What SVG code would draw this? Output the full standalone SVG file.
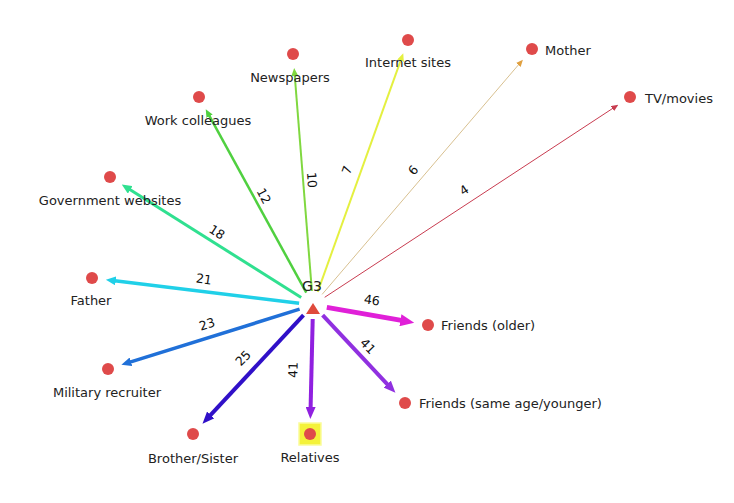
<svg xmlns="http://www.w3.org/2000/svg" width="734" height="503" viewBox="0 0 734 503">
<style>
.lbl{font-family:"DejaVu Sans",Verdana,sans-serif;font-size:13px;fill:#222}
.mid{text-anchor:middle}
.num{font-family:"DejaVu Sans",Verdana,sans-serif;font-size:12.5px;fill:#111;text-anchor:middle;dominant-baseline:central}
.dot{fill:#df4a4a}
.e{fill:none;stroke-linecap:butt}
</style>
<defs>
<marker id="m1" markerUnits="userSpaceOnUse" orient="auto" markerWidth="8" markerHeight="7" viewBox="0 0 8 7" refX="1" refY="3.5"><path d="M0,0L8,3.5L0,7z" fill="#80d840"/></marker>
<marker id="m2" markerUnits="userSpaceOnUse" orient="auto" markerWidth="8" markerHeight="7" viewBox="0 0 8 7" refX="1" refY="3.5"><path d="M0,0L8,3.5L0,7z" fill="#e4f040"/></marker>
<marker id="m3" markerUnits="userSpaceOnUse" orient="auto" markerWidth="7" markerHeight="6" viewBox="0 0 7 6" refX="1" refY="3"><path d="M0,0L7,3L0,6z" fill="#e0a040"/></marker>
<marker id="m4" markerUnits="userSpaceOnUse" orient="auto" markerWidth="7" markerHeight="6" viewBox="0 0 7 6" refX="1" refY="3"><path d="M0,0L7,3L0,6z" fill="#c83c50"/></marker>
<marker id="m5" markerUnits="userSpaceOnUse" orient="auto" markerWidth="8" markerHeight="7" viewBox="0 0 8 7" refX="1" refY="3.5"><path d="M0,0L8,3.5L0,7z" fill="#50d040"/></marker>
<marker id="m6" markerUnits="userSpaceOnUse" orient="auto" markerWidth="10" markerHeight="9" viewBox="0 0 10 9" refX="1" refY="4.5"><path d="M0,0L10,4.5L0,9z" fill="#30e090"/></marker>
<marker id="m7" markerUnits="userSpaceOnUse" orient="auto" markerWidth="10" markerHeight="9" viewBox="0 0 10 9" refX="1" refY="4.5"><path d="M0,0L10,4.5L0,9z" fill="#20d0e8"/></marker>
<marker id="m8" markerUnits="userSpaceOnUse" orient="auto" markerWidth="10" markerHeight="9" viewBox="0 0 10 9" refX="1" refY="4.5"><path d="M0,0L10,4.5L0,9z" fill="#2070d8"/></marker>
<marker id="m9" markerUnits="userSpaceOnUse" orient="auto" markerWidth="12" markerHeight="10" viewBox="0 0 12 10" refX="1" refY="5"><path d="M0,0L12,5L0,10z" fill="#3010c8"/></marker>
<marker id="m10" markerUnits="userSpaceOnUse" orient="auto" markerWidth="12" markerHeight="10" viewBox="0 0 12 10" refX="1" refY="5"><path d="M0,0L12,5L0,10z" fill="#9020e0"/></marker>
<marker id="m11" markerUnits="userSpaceOnUse" orient="auto" markerWidth="14" markerHeight="12" viewBox="0 0 14 12" refX="1" refY="6"><path d="M0,0L14,6L0,12z" fill="#e020d8"/></marker>
<marker id="m12" markerUnits="userSpaceOnUse" orient="auto" markerWidth="12" markerHeight="10" viewBox="0 0 12 10" refX="1" refY="5"><path d="M0,0L12,5L0,10z" fill="#9030e0"/></marker>
</defs>
<rect width="734" height="503" fill="#fff"/>
<g id="connectors">
<path class="e" d="M311.9,291L294.7,75" stroke="#80d840" stroke-width="2" marker-end="url(#m1)"/>
<path class="e" d="M317.7,291.8L400.9,59.8" stroke="#e4f040" stroke-width="2" marker-end="url(#m2)"/>
<path class="e" d="M322.1,294.4L519,64.2" stroke="#d8c090" stroke-width="1" marker-end="url(#m3)"/>
<path class="e" d="M324.7,297.3L613.3,108" stroke="#c83c50" stroke-width="1" marker-end="url(#m4)"/>
<path class="e" d="M306.3,292.7L209.1,115.4" stroke="#50d040" stroke-width="2.5" marker-end="url(#m5)"/>
<path class="e" d="M301.2,297.5L129.4,189.3" stroke="#30e090" stroke-width="3" marker-end="url(#m6)"/>
<path class="e" d="M299.1,303.3L114.8,280.8" stroke="#20d0e8" stroke-width="3.5" marker-end="url(#m7)"/>
<path class="e" d="M299.6,309.2L130,362.1" stroke="#2070d8" stroke-width="3.5" marker-end="url(#m8)"/>
<path class="e" d="M303.5,315.2L210,415.7" stroke="#3010c8" stroke-width="4" marker-end="url(#m9)"/>
<path class="e" d="M312.7,319L310.6,408" stroke="#9020e0" stroke-width="4" marker-end="url(#m10)"/>
<path class="e" d="M326.8,307.4L401.4,320.4" stroke="#e020d8" stroke-width="5" marker-end="url(#m11)"/>
<path class="e" d="M322.6,315.2L387.9,384.8" stroke="#9030e0" stroke-width="4" marker-end="url(#m12)"/>
<text class="num" transform="translate(312,180) rotate(86)">10</text>
<text class="num" transform="translate(347,170) rotate(-70)">7</text>
<text class="num" transform="translate(413,170) rotate(-50)">6</text>
<text class="num" transform="translate(464,190) rotate(-34)">4</text>
<text class="num" transform="translate(264,196) rotate(62)">12</text>
<text class="num" transform="translate(217,232) rotate(33)">18</text>
<text class="num" transform="translate(204,279) rotate(8)">21</text>
<text class="num" transform="translate(207,324) rotate(-17)">23</text>
<text class="num" transform="translate(243,358) rotate(-46)">25</text>
<text class="num" transform="translate(293,370) rotate(-89)">41</text>
<text class="num" transform="translate(372,300) rotate(8)">46</text>
<text class="num" transform="translate(368,346) rotate(46)">41</text>
</g>
<g id="G3">
<path d="M313,303L320,314L306,314z" fill="#df4a3c"/>
<text class="lbl mid" x="312" y="291" style="font-size:14px">G3</text>
</g>
<g id="newspapers"><circle class="dot" cx="293" cy="54" r="6"/><text class="lbl mid" x="290" y="82">Newspapers</text></g>
<g id="internet"><circle class="dot" cx="408" cy="40" r="6"/><text class="lbl mid" x="408" y="67">Internet sites</text></g>
<g id="mother"><circle class="dot" cx="532" cy="49" r="6"/><text class="lbl" x="545" y="55">Mother</text></g>
<g id="tv"><circle class="dot" cx="630" cy="97" r="6"/><text class="lbl" x="645" y="103">TV/movies</text></g>
<g id="work"><circle class="dot" cx="199" cy="97" r="6"/><text class="lbl mid" x="198" y="125">Work colleagues</text></g>
<g id="govt"><circle class="dot" cx="110" cy="177" r="6"/><text class="lbl mid" x="110" y="205">Government websites</text></g>
<g id="father"><circle class="dot" cx="92" cy="278" r="6"/><text class="lbl mid" x="91" y="305">Father</text></g>
<g id="military"><circle class="dot" cx="108" cy="369" r="6"/><text class="lbl mid" x="107" y="397">Military recruiter</text></g>
<g id="brother"><circle class="dot" cx="193" cy="434" r="6"/><text class="lbl mid" x="193" y="463">Brother/Sister</text></g>
<g id="relatives"><rect x="299" y="423" width="22" height="22" fill="#f4f23a" stroke="#fafc9a" stroke-width="1.5"/><circle class="dot" cx="310" cy="434" r="6"/><text class="lbl mid" x="310" y="462">Relatives</text></g>
<g id="friends-older"><circle class="dot" cx="428" cy="325" r="6"/><text class="lbl" x="441" y="330">Friends (older)</text></g>
<g id="friends-same"><circle class="dot" cx="405" cy="403" r="6"/><text class="lbl" x="419" y="408">Friends (same age/younger)</text></g>
</svg>
